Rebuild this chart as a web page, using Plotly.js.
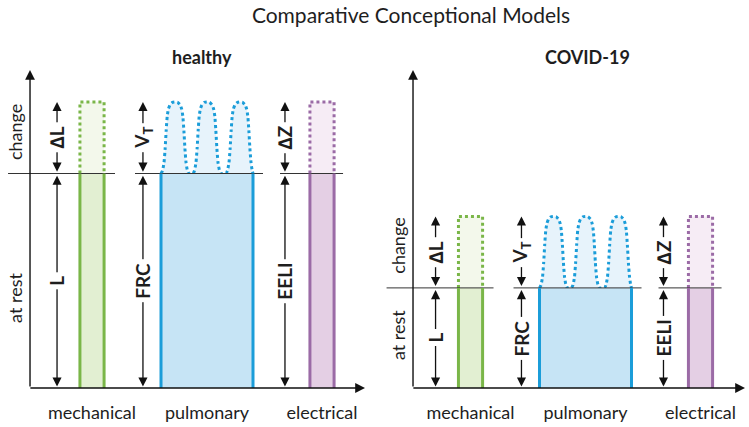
<!DOCTYPE html>
<html><head><meta charset="utf-8">
<script src="https://cdn.plot.ly/plotly-3.0.1.min.js"></script>
<style>html,body{margin:0;padding:0;background:#fff}#chart{width:749px;height:427px}</style>
</head><body><div id="chart"></div>
<script>
// ---- data ----
const categories = ['mechanical', 'pulmonary', 'electrical'];
const catPos = [1, 2, 3];
const panelTitles = ['healthy', 'COVID-19'];
const restHealthy = [3.0, 3.0, 3.0];     // L, FRC, EELI at rest
const changeHealthy = [1.0, 1.0, 1.0];   // ΔL, VT, ΔZ
const restCovid = [1.4, 1.4, 1.4];
const changeCovid = [1.0, 1.0, 1.0];
const restSymbols = ['L', 'FRC', 'EELI'];
const changeSymbols = ['\u2206L', 'V<sub>T</sub>', '\u2206Z'];
// tidal breathing trace: offset from pulmonary centre, fraction of tidal change
const tidalX = [-0.400, -0.387, -0.374, -0.364, -0.355, -0.346, -0.336, -0.322, -0.300, -0.278, -0.256, -0.234, -0.220, -0.210, -0.201, -0.192, -0.182, -0.170, -0.157,
                -0.122, -0.109, -0.096, -0.086, -0.077, -0.068, -0.058, -0.044, -0.022, 0.000, 0.022, 0.044, 0.058, 0.068, 0.077, 0.086, 0.096, 0.109, 0.122,
                 0.165, 0.178, 0.191, 0.201, 0.210, 0.219, 0.229, 0.243, 0.265, 0.287, 0.309, 0.331, 0.345, 0.355, 0.364, 0.373, 0.383, 0.393, 0.400];
const tidalY = [0, 0.04, 0.15, 0.35, 0.6, 0.8, 0.9, 0.96, 0.995, 1, 0.995, 0.96, 0.9, 0.8, 0.6, 0.35, 0.15, 0.04, 0,
                0, 0.04, 0.15, 0.35, 0.6, 0.8, 0.9, 0.96, 0.995, 1, 0.995, 0.96, 0.9, 0.8, 0.6, 0.35, 0.15, 0.04, 0,
                0, 0.04, 0.15, 0.35, 0.6, 0.8, 0.9, 0.96, 0.995, 1, 0.995, 0.96, 0.9, 0.8, 0.6, 0.35, 0.15, 0.04, 0];

// ---- style ----
const FONT = 'Lato, "Open Sans", sans-serif';
const TXT = '#1e1e1e';
const colors = [
  {line: '#7ab648', rest: '#e2efd2', change: '#f3f8eb'},
  {line: '#1b9dd9', rest: '#c6e4f5', change: '#e7f3fb'},
  {line: '#9b6ba6', rest: '#e4cfe4', change: '#f6ecf5'}
];
const widths = [0.21, 0.8, 0.21];
const arrowOff = [-0.304, -0.557, -0.322];
const baseSeg = [[-0.73, 0.2], [-0.626, 0.487], [-0.365, 0.183]];

const panels = [
  {xa: 'x', rest: restHealthy, change: changeHealthy, yAxisX: 0.461, xEnd: 3.374, title: panelTitles[0], titleX: 202,
   sideX: 15, changeY: 3.58, restY: 1.26},
  {xa: 'x2', rest: restCovid, change: changeCovid, yAxisX: 0.50, xEnd: 3.387, title: panelTitles[1], titleX: 587,
   sideX: 398, changeY: 1.99, restY: 0.74}
];

const traces = [];
const annotations = [];
const W = 749, H = 427;

panels.forEach(p => {
  // change parts
  catPos.forEach((c, i) => {
    const l = c - widths[i] / 2, r = c + widths[i] / 2;
    const rest = p.rest[i], chg = p.change[i];
    let xs, ys, shape = 'linear';
    if (i === 1) {
      xs = tidalX.map(v => c + v);
      ys = tidalY.map(v => rest + chg * v);
      shape = 'spline';
    } else {
      xs = [l, l, r, r];
      ys = [rest, rest + chg, rest + chg, rest];
    }
    traces.push({type: 'scatter', mode: 'lines', xaxis: p.xa, yaxis: 'y', x: xs, y: ys,
      fill: 'toself', fillcolor: colors[i].change, cliponaxis: false, hoverinfo: 'skip',
      line: {color: colors[i].line, width: 3, dash: 'dot', shape: shape, smoothing: 0.5}});
  });
  // rest fills
  catPos.forEach((c, i) => {
    const l = c - widths[i] / 2, r = c + widths[i] / 2;
    traces.push({type: 'scatter', mode: 'lines', xaxis: p.xa, yaxis: 'y',
      x: [l, r, r, l], y: [0, 0, p.rest[i], p.rest[i]], fill: 'toself', fillcolor: colors[i].rest,
      line: {width: 0}, hoverinfo: 'skip', cliponaxis: false});
  });
  // baseline segments
  catPos.forEach((c, i) => {
    traces.push({type: 'scatter', mode: 'lines', xaxis: p.xa, yaxis: 'y',
      x: [c + baseSeg[i][0], c + baseSeg[i][1]], y: [p.rest[i], p.rest[i]],
      line: {color: '#333', width: 1}, hoverinfo: 'skip', cliponaxis: false});
  });
  // rest edges
  catPos.forEach((c, i) => {
    const l = c - widths[i] / 2, r = c + widths[i] / 2;
    traces.push({type: 'scatter', mode: 'lines', xaxis: p.xa, yaxis: 'y',
      x: [l, l, null, r, r], y: [0, p.rest[i], null, 0, p.rest[i]],
      line: {color: colors[i].line, width: 3}, hoverinfo: 'skip', cliponaxis: false});
  });
  // axes arrows
  const arrowBase = {text: '', showarrow: true, xref: p.xa, yref: 'y', axref: p.xa, ayref: 'y',
    arrowcolor: '#111', arrowwidth: 1.4, arrowhead: 2, arrowsize: 1.4, standoff: 0, startstandoff: 0};
  annotations.push(Object.assign({}, arrowBase, {x: p.yAxisX, y: 4.448, ax: p.yAxisX, ay: 0}));
  annotations.push(Object.assign({}, arrowBase, {x: p.xEnd, y: 0, ax: p.yAxisX - 0.01, ay: 0}));
  // dimension arrows + labels
  catPos.forEach((c, i) => {
    const ax = c + arrowOff[i];
    const rest = p.rest[i], chg = p.change[i];
    const dbl = Object.assign({}, arrowBase, {arrowside: 'end+start', startarrowhead: 2, startarrowsize: 1.4,
      arrowwidth: 1.3, arrowsize: 1.4});
    annotations.push(Object.assign({}, dbl, {x: ax, y: rest + chg, ax: ax, ay: rest + 0.005}));
    annotations.push(Object.assign({}, dbl, {x: ax, y: rest - 0.03, ax: ax, ay: 0}));
    annotations.push({text: '<b>' + changeSymbols[i] + '</b>', x: ax, y: rest + chg / 2, xref: p.xa, yref: 'y',
      xanchor: 'center', yanchor: 'middle',
      showarrow: false, textangle: -90, bgcolor: '#fff', borderpad: 3,
      font: {family: FONT, size: 19, color: TXT}});
    annotations.push({text: '<b>' + restSymbols[i] + '</b>', x: ax, y: rest / 2, xref: p.xa, yref: 'y',
      xanchor: 'center', yanchor: 'middle',
      showarrow: false, textangle: -90, bgcolor: '#fff', borderpad: 3,
      font: {family: FONT, size: 19, color: TXT}});
  });
  // panel title
  annotations.push({text: '<b>' + p.title + '</b>', x: p.titleX / W, y: 1 - 57 / H, xref: 'paper', yref: 'paper',
    xanchor: 'center', yanchor: 'middle',
    showarrow: false, font: {family: FONT, size: 18, color: TXT}});
  // side labels
  annotations.push({text: 'change', x: p.sideX / W, y: p.changeY, xref: 'paper', yref: 'y', showarrow: false,
    xanchor: 'center', yanchor: 'middle',
    textangle: -90, font: {family: FONT, size: 18, color: TXT}});
  annotations.push({text: 'at rest', x: p.sideX / W, y: p.restY, xref: 'paper', yref: 'y', showarrow: false,
    xanchor: 'center', yanchor: 'middle',
    textangle: -90, font: {family: FONT, size: 18, color: TXT}});
});

const xaxisBase = {tickvals: catPos, ticktext: categories, showgrid: false, zeroline: false, showline: false,
  ticks: 'outside', ticklen: 0, ticklabelstandoff: 8, tickfont: {family: FONT, size: 18, color: TXT},
  anchor: 'y', fixedrange: true};

const layout = {
  width: W, height: H,
  margin: {l: 0, r: 0, t: 0, b: 0},
  paper_bgcolor: '#fff', plot_bgcolor: '#fff',
  showlegend: false,
  title: {text: 'Comparative Conceptional Models', x: 411 / W, xanchor: 'center', y: 1 - 16 / H, yanchor: 'middle',
    yref: 'container', font: {family: FONT, size: 21, color: TXT}},
  xaxis: Object.assign({}, xaxisBase, {domain: [0, 0.5], range: [0.2, 3.4565]}),
  xaxis2: Object.assign({}, xaxisBase, {domain: [0.5, 1], range: [0.165, 3.4217]}),
  yaxis: {domain: [39 / H, 1], range: [0, 388 / 71.5], visible: false, fixedrange: true},
  annotations: annotations
};

Plotly.newPlot('chart', traces, layout, {staticPlot: true, displayModeBar: false});
</script>
</body></html>
